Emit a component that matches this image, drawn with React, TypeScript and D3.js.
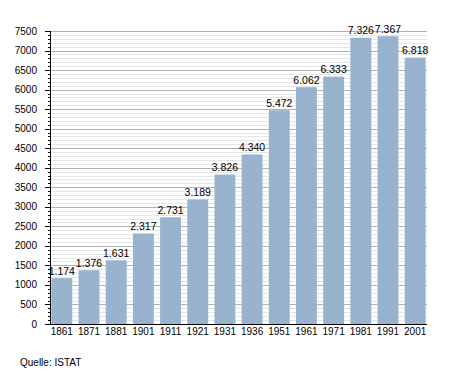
import React from "react";
import * as d3 from "d3";

const years = ["1861","1871","1881","1901","1911","1921","1931","1936","1951","1961","1971","1981","1991","2001"];
const population = [1174,1376,1631,2317,2731,3189,3826,4340,5472,6062,6333,7326,7367,6818];
const yTicks = [0,500,1000,1500,2000,2500,3000,3500,4000,4500,5000,5500,6000,6500,7000,7500];
const source = "Quelle: ISTAT";

export default function App() {
  const W = 455, H = 373;
  const left = 50, right = 427, top = 31, bottom = 324;
  const x = d3.scaleBand<string>().domain(years).range([left, right]).paddingInner(0.23).paddingOuter(0.05);
  const y = d3.scaleLinear().domain([0, 7500]).range([bottom, top]);
  const minor = d3.range(0, 7501, 100);
  const fmt = (v: number) => d3.format(",")(v).replace(/,/g, ".");
  const font = "Liberation Sans, Arial, sans-serif";
  return (
    <svg width={W} height={H} style={{ position: "absolute", left: 0, top: 0, background: "#fff" }} fontFamily={font}>
      {minor.map((v) => (
        <line key={"m" + v} x1={left} x2={right} y1={Math.round(y(v)) + 0.5} y2={Math.round(y(v)) + 0.5}
          stroke={v % 500 === 0 ? "#b0b0b0" : "#e6e6e6"} strokeWidth={1} />
      ))}
      {minor.map((v) => (
        <line key={"t" + v} x1={v % 500 === 0 ? left - 5 : left - 2} x2={left}
          y1={Math.round(y(v)) + 0.5} y2={Math.round(y(v)) + 0.5} stroke="#000" strokeWidth={1} />
      ))}
      {years.map((yr, i) => (
        <rect key={yr} x={x(yr)} y={y(population[i])} width={x.bandwidth()} height={bottom - y(population[i])} fill="#99b3cf" />
      ))}
      {years.map((yr, i) => (
        <text key={"v" + yr} x={(x(yr) as number) + x.bandwidth() / 2} y={y(population[i]) - 3.5}
          textAnchor="middle" fontSize={10.5} fill="#000">{fmt(population[i])}</text>
      ))}
      <line x1={left + 0.5} x2={left + 0.5} y1={top} y2={bottom} stroke="#000" />
      <line x1={left} x2={right} y1={bottom + 0.5} y2={bottom + 0.5} stroke="#000" />
      {yTicks.map((v) => (
        <text key={"y" + v} x={37} y={y(v) + 3.5} textAnchor="end" fontSize={10} fill="#000">{v}</text>
      ))}
      {years.map((yr) => (
        <text key={"x" + yr} x={(x(yr) as number) + x.bandwidth() / 2} y={335}
          textAnchor="middle" fontSize={10} fill="#000">{yr}</text>
      ))}
      <text x={20} y={366} fontSize={10} fill="#000">{source}</text>
    </svg>
  );
}
